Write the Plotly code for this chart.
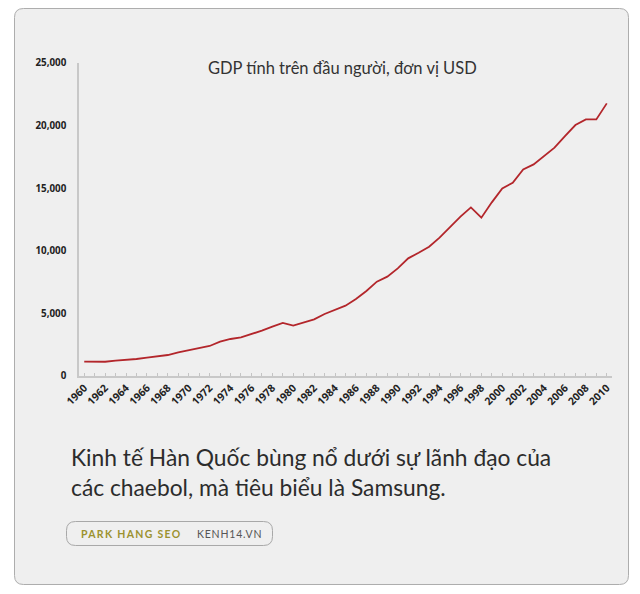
import plotly.graph_objects as go

years = [1960, 1961, 1962, 1963, 1964, 1965, 1966, 1967, 1968, 1969,
         1970, 1971, 1972, 1973, 1974, 1975, 1976, 1977, 1978, 1979,
         1980, 1981, 1982, 1983, 1984, 1985, 1986, 1987, 1988, 1989,
         1990, 1991, 1992, 1993, 1994, 1995, 1996, 1997, 1998, 1999,
         2000, 2001, 2002, 2003, 2004, 2005, 2006, 2007, 2008, 2009, 2010]
gdp_per_capita = [1145, 1145, 1140, 1225, 1278, 1358, 1464, 1544, 1677, 1890,
                  2076, 2210, 2396, 2742, 2955, 3088, 3328, 3620, 3940, 4233,
                  4020, 4260, 4525, 4951, 5271, 5617, 6149, 6788, 7533, 7933,
                  8598, 9397, 9849, 10329, 11047, 11926, 12724, 13470, 12645, 13869,
                  14987, 15440, 16504, 16904, 17569, 18235, 19166, 20045, 20497, 20497,
                  21775]
x_tick_vals = [1960, 1962, 1964, 1966, 1968, 1970, 1972, 1974, 1976, 1978, 1980,
               1982, 1984, 1986, 1988, 1990, 1992, 1994, 1996, 1998, 2000,
               2002, 2004, 2006, 2008, 2010]
y_tick_vals = [0, 5000, 10000, 15000, 20000, 25000]
y_tick_text = ["0", "5,000", "10,000", "15,000", "20,000", "25,000"]

title_text = "GDP tính trên đầu người, đơn vị USD"
headline = "Kinh tế Hàn Quốc bùng nổ dưới sự lãnh đạo của<br>các chaebol, mà tiêu biểu là Samsung."
brand = "PARK HANG SEO"
site = "KENH14.VN"

W, H = 640, 594
L, R, T, B = 79, 28, 63, 218
PW = W - L - R
PH = H - T - B


def px(x):
    return (x - L) / PW


def py(y):
    return (H - B - y) / PH


def rounded_rect(x0, y0, x1, y1, r):
    cmds = [
        ("M", x0 + r, y0), ("L", x1 - r, y0), ("Q", x1, y0, x1, y0 + r),
        ("L", x1, y1 - r), ("Q", x1, y1, x1 - r, y1), ("L", x0 + r, y1),
        ("Q", x0, y1, x0, y1 - r), ("L", x0, y0 + r), ("Q", x0, y0, x0 + r, y0),
    ]
    s = ""
    for c in cmds:
        if c[0] == "Q":
            s += f"Q{px(c[1]):.5f},{py(c[2]):.5f} {px(c[3]):.5f},{py(c[4]):.5f} "
        else:
            s += f"{c[0]}{px(c[1]):.5f},{py(c[2]):.5f} "
    return s + "Z"


fig = go.Figure()
fig.add_trace(go.Scatter(
    x=years, y=gdp_per_capita, mode="lines",
    line=dict(color="#b3262b", width=1.8), hoverinfo="skip", showlegend=False,
))

fig.update_layout(
    width=W, height=H,
    margin=dict(l=L, r=R, t=T, b=B, autoexpand=False),
    paper_bgcolor="#ffffff",
    plot_bgcolor="rgba(0,0,0,0)",
    showlegend=False,
    shapes=[
        dict(type="path", xref="paper", yref="paper",
             path=rounded_rect(14.5, 8.5, 628.5, 584.5, 9),
             fillcolor="#efefef", line=dict(color="#adadad", width=1), layer="below"),
        dict(type="path", xref="paper", yref="paper",
             path=rounded_rect(66.5, 521.5, 272.5, 545.5, 9),
             fillcolor="rgba(0,0,0,0)", line=dict(color="#a8a8a8", width=1), layer="below"),
    ],
    annotations=[
        dict(text=title_text, xref="paper", yref="paper", x=px(342), y=py(68),
             xanchor="center", yanchor="middle", showarrow=False,
             font=dict(family="Lato", size=16.5, color="#333333")),
        dict(text=headline, xref="paper", yref="paper", x=px(69), y=py(472),
             xanchor="left", yanchor="middle", align="left", showarrow=False,
             font=dict(family="Lato", size=22.8, color="#2c2c2c")),
        dict(text=f'<span style="letter-spacing:1.3px">{brand}</span>',
             xref="paper", yref="paper", x=px(79), y=py(534),
             xanchor="left", yanchor="middle", showarrow=False,
             font=dict(family="Lato", size=10.5, color="#9c922f", weight="bold")),
        dict(text=f'<span style="letter-spacing:0.8px">{site}</span>',
             xref="paper", yref="paper", x=px(195), y=py(534),
             xanchor="left", yanchor="middle", showarrow=False,
             font=dict(family="Lato", size=10.5, color="#555555")),
    ],
    xaxis=dict(
        range=[1959.5, 2010.5], tickmode="array", tickvals=x_tick_vals,
        tickangle=-45, ticks="inside", ticklen=3, tickcolor="#c4c4c4",
        minor=dict(dtick=1, tick0=1960, ticks="inside", ticklen=3, tickcolor="#c4c4c4"),
        showline=True, linecolor="#c8c8c8", linewidth=1.5, showgrid=False, zeroline=False,
        tickfont=dict(family="Noto Sans", size=10.5, color="#222222", weight="bold"),
        fixedrange=True,
    ),
    yaxis=dict(
        range=[0, 25000], tickmode="array", tickvals=y_tick_vals, ticktext=y_tick_text,
        ticks="", showline=True, linecolor="#c8c8c8", linewidth=1.5, showgrid=False,
        zeroline=False, ticklabelstandoff=9,
        tickfont=dict(family="Noto Sans", size=9.8, color="#222222", weight="bold"),
        fixedrange=True,
    ),
)

fig.write_html(
    "out.html",
    config={"displayModeBar": False},
    post_script="document.body.style.margin='0';document.body.style.overflow='hidden';",
)
